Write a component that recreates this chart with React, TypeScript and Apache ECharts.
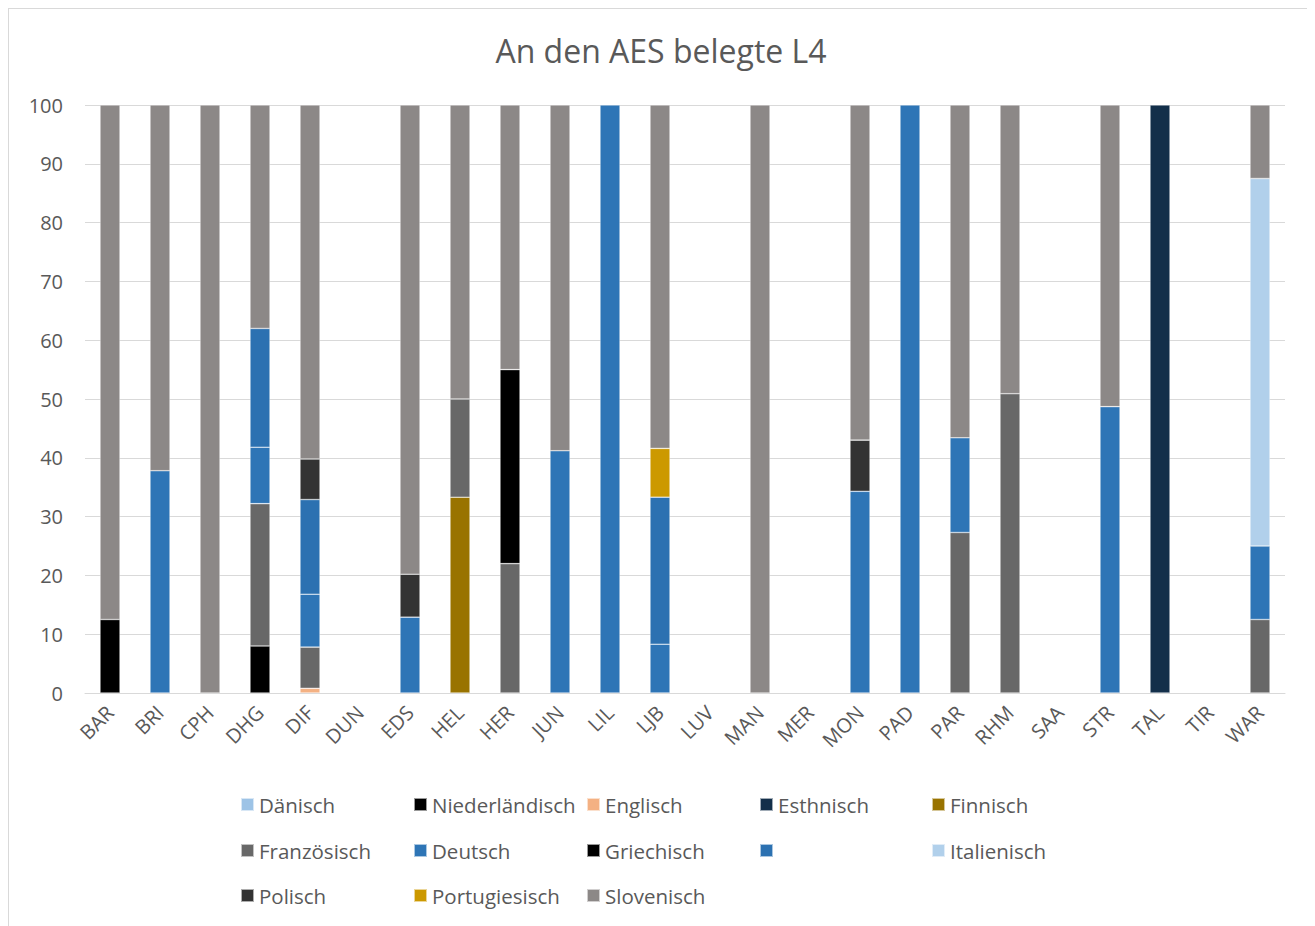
import React, { useEffect, useRef } from "react";
import * as echarts from "echarts";

const categories = ["BAR", "BRI", "CPH", "DHG", "DIF", "DUN", "EDS", "HEL", "HER", "JUN", "LIL", "LJB", "LUV", "MAN", "MER", "MON", "PAD", "PAR", "RHM", "SAA", "STR", "TAL", "TIR", "WAR"];
const yTicks = { min: 0, max: 100, interval: 10 };

const N = null;
const seriesNames = ["Dänisch", "Niederländisch", "Englisch", "Esthnisch", "Finnisch", "Französisch", "Deutsch", "Griechisch", " ", "Italienisch", "Polisch", "Portugiesisch", "Slovenisch"];
const seriesColors = ["#9DC3E6", "#000000", "#F4B183", "#132F4A", "#997300", "#686868", "#2E75B6", "#000000", "#2C71B1", "#B1D0EB", "#333333", "#CC9900", "#8C8887"];

//                  BAR   BRI   CPH  DHG   DIF   DUN  EDS   HEL   HER  JUN   LIL  LJB   LUV MAN  MER MON   PAD  PAR   RHM   SAA STR   TAL  TIR WAR
const daenisch =    [N,    N,    N,   N,    N,    N,   N,    N,    N,   N,    N,   N,    N,  N,   N,  N,    N,   N,    N,    N,  N,    N,   N,  N];
const niederl =     [12.5, N,    N,   8,    N,    N,   N,    N,    N,   N,    N,   N,    N,  N,   N,  N,    N,   N,    N,    N,  N,    N,   N,  N];
const englisch =    [N,    N,    N,   N,    0.8,  N,   N,    N,    N,   N,    N,   N,    N,  N,   N,  N,    N,   N,    N,    N,  N,    N,   N,  N];
const esthnisch =   [N,    N,    N,   N,    N,    N,   N,    N,    N,   N,    N,   N,    N,  N,   N,  N,    N,   N,    N,    N,  N,    100, N,  N];
const finnisch =    [N,    N,    N,   N,    N,    N,   N,    33.3, N,   N,    N,   N,    N,  N,   N,  N,    N,   N,    N,    N,  N,    N,   N,  N];
const franz =       [N,    N,    N,   24.2, 7.0,  N,   N,    16.7, 22,  N,    N,   N,    N,  N,   N,  N,    N,   27.3, 50.9, N,  N,    N,   N,  12.5];
const deutsch =     [N,    37.8, N,   9.6,  9.0,  N,   12.9, N,    N,   41.2, 100, 8.3,  N,  N,   N,  34.3, 100, 16.1, N,    N,  48.7, N,   N,  12.5];
const griechisch =  [N,    N,    N,   N,    N,    N,   N,    N,    33,  N,    N,   N,    N,  N,   N,  N,    N,   N,    N,    N,  N,    N,   N,  N];
const blank =       [N,    N,    N,   20.2, 16.1, N,   N,    N,    N,   N,    N,   25,   N,  N,   N,  N,    N,   N,    N,    N,  N,    N,   N,  N];
const italienisch = [N,    N,    N,   N,    N,    N,   N,    N,    N,   N,    N,   N,    N,  N,   N,  N,    N,   N,    N,    N,  N,    N,   N,  62.5];
const polisch =     [N,    N,    N,   N,    6.9,  N,   7.3,  N,    N,   N,    N,   N,    N,  N,   N,  8.7,  N,   N,    N,    N,  N,    N,   N,  N];
const portug =      [N,    N,    N,   N,    N,    N,   N,    N,    N,   N,    N,   8.3,  N,  N,   N,  N,    N,   N,    N,    N,  N,    N,   N,  N];
const slovenisch =  [87.5, 62.2, 100, 38,   60.2, N,   79.8, 50,   45,  58.8, N,   58.4, N,  100, N,  57,   N,   56.6, 49.1, N,  51.3, N,   N,  12.5];

const seriesData = [daenisch, niederl, englisch, esthnisch, finnisch, franz, deutsch, griechisch, blank, italienisch, polisch, portug, slovenisch];

const FONT = "'Open Sans', sans-serif";
const TXT = "#595959";

export default function App() {
  const ref = useRef<HTMLDivElement>(null);
  useEffect(() => {
    if (!ref.current) return;
    const chart = echarts.init(ref.current, undefined, { renderer: "svg" });
    const legendCols = [231, 404, 577, 750, 922];
    const legendRows = [785, 831, 876];
    const legends = seriesNames.map((name, i) => ({
      show: true,
      data: [name],
      left: legendCols[i % 5],
      top: legendRows[Math.floor(i / 5)],
      padding: 0,
      icon: "rect",
      itemWidth: 13,
      itemHeight: 13,
      selectedMode: false,
      textStyle: { color: TXT, fontSize: 20.5, fontFamily: FONT },
    }));
    chart.setOption({
      animation: false,
      backgroundColor: "#ffffff",
      title: {
        text: "An den AES belegte L4",
        left: "center",
        top: 25,
        padding: 0,
        textStyle: { color: TXT, fontSize: 32, fontWeight: "normal", fontFamily: FONT },
      },
      legend: legends,
      grid: { left: 76, right: 28, top: 96, bottom: 244, containLabel: false },
      xAxis: {
        type: "category",
        data: categories,
        axisLine: { lineStyle: { color: "#D9D9D9", width: 1 } },
        axisTick: { show: false },
        axisLabel: { rotate: 45, margin: 16, color: TXT, fontSize: 20, fontFamily: FONT, interval: 0 },
      },
      yAxis: {
        type: "value",
        min: yTicks.min,
        max: yTicks.max,
        interval: yTicks.interval,
        axisLine: { show: false },
        axisTick: { show: false },
        splitLine: { lineStyle: { color: "#D9D9D9", width: 1 } },
        axisLabel: { margin: 22, color: TXT, fontSize: 20, fontFamily: FONT },
      },
      series: seriesNames.map((name, i) => ({
        name,
        type: "bar",
        stack: "total",
        barWidth: 20,
        data: seriesData[i],
        itemStyle: { color: seriesColors[i], borderColor: "rgba(255,255,255,0.6)", borderWidth: 0.6 },
      })),
    });
    return () => chart.dispose();
  }, []);
  return (
    <div
      ref={ref}
      style={{ width: 1306, height: 930, border: "1px solid #D9D9D9", boxSizing: "border-box" }}
    />
  );
}
